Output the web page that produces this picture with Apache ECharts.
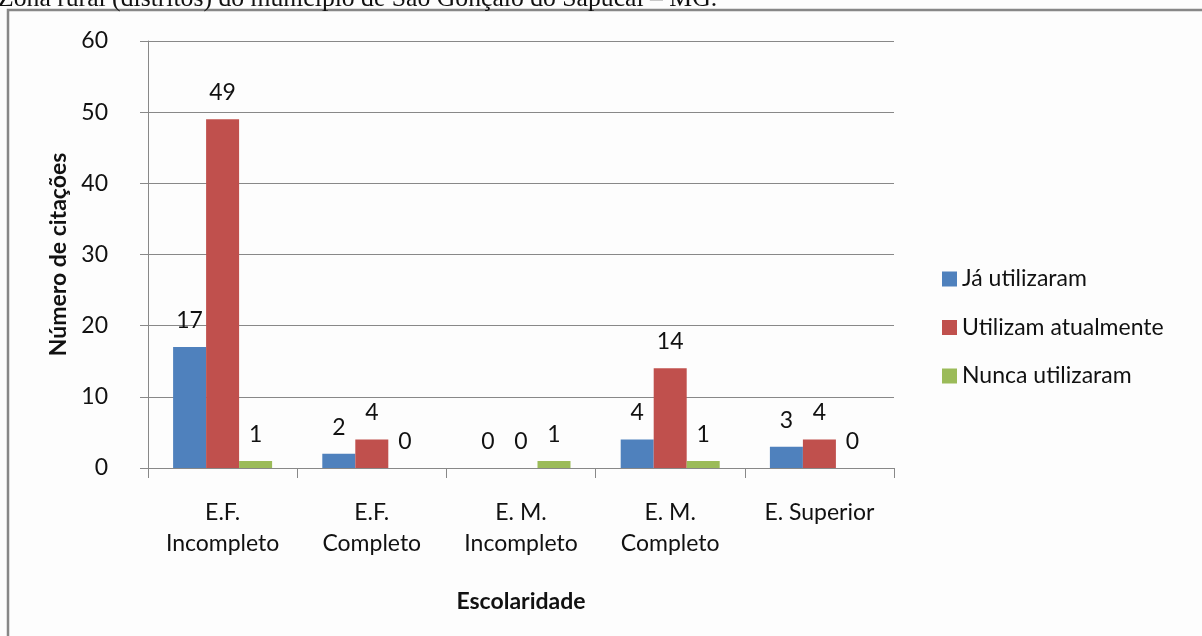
<!DOCTYPE html>
<html>
<head>
<meta charset="utf-8">
<script src="https://cdn.jsdelivr.net/npm/echarts@6/dist/echarts.min.js"></script>
<style>
  html, body { margin: 0; padding: 0; background: #fdfdfd; }
  #chart { width: 1202px; height: 636px; }
</style>
</head>
<body>
<div id="chart"></div>
<script>
// escolaridade x uso
const CATEGORIES = ["E.F.\nIncompleto", "E.F.\nCompleto", "E. M.\nIncompleto", "E. M.\nCompleto", "E. Superior"];
const JA_UTILIZARAM = [17, 2, 0, 4, 3];
const UTILIZAM_ATUALMENTE = [49, 4, 0, 14, 4];
const NUNCA_UTILIZARAM = [1, 0, 1, 1, 0];
const Y_TICKS = { min: 0, max: 60, interval: 10 };

const COL = { ja: "#4F81BD", atual: "#C0504D", nunca: "#9BBB59" };
const FONT = "Lato, 'Noto Sans', sans-serif";
const FS = 23;
const GRAY = "#888888";

const chart = echarts.init(document.getElementById("chart"));

const label = {
  show: true, position: "top", distance: 15,
  fontFamily: FONT, fontSize: FS, color: "#111",
};

function barSeries(name, data, color) {
  return { name, type: "bar", data, barWidth: 33, barGap: 0,
    itemStyle: { color }, label, emphasis: { disabled: true } };
}

chart.setOption({
  animation: false,
  textStyle: { fontFamily: FONT, color: "#111" },
  grid: { left: 148, right: 308, top: 41, bottom: 168 },
  graphic: [
    { type: "rect", shape: { x: 8, y: 10, width: 1300, height: 700 },
      style: { fill: "none", stroke: "#878787", lineWidth: 2.5 }, silent: true },
    { type: "text", left: -2, top: -14,
      style: { text: "Zona rural (distritos) do município de São Gonçalo do Sapucaí – MG.",
        font: "25.7px 'Liberation Serif', serif", fill: "#111" } },
  ],
  legend: {
    data: ["Já utilizaram", "Utilizam atualmente", "Nunca utilizaram"],
    orient: "vertical", left: 937, top: 262, itemGap: 24.5,
    icon: "rect", itemWidth: 15, itemHeight: 15,
    textStyle: { fontFamily: FONT, fontSize: FS, lineHeight: 24, color: "#111" },
    selectedMode: false,
  },
  xAxis: {
    type: "category", data: CATEGORIES,
    axisLine: { lineStyle: { color: GRAY, width: 1 } },
    axisTick: { show: true, length: 10, lineStyle: { color: GRAY } },
    axisLabel: { fontFamily: FONT, fontSize: FS, color: "#111", margin: 29, lineHeight: 31 },
    name: "Escolaridade", nameLocation: "middle", nameGap: 122,
    nameTextStyle: { fontFamily: FONT, fontSize: FS, fontWeight: "bold", color: "#111" },
  },
  yAxis: {
    type: "value", min: Y_TICKS.min, max: Y_TICKS.max, interval: Y_TICKS.interval,
    axisLine: { show: true, lineStyle: { color: GRAY, width: 1 } },
    axisTick: { show: true, length: 8, lineStyle: { color: GRAY } },
    axisLabel: { fontFamily: FONT, fontSize: FS, color: "#111", margin: 40 },
    splitLine: { lineStyle: { color: GRAY, width: 1 } },
    name: "Número de citações", nameLocation: "middle", nameGap: 78,
    nameTextStyle: { fontFamily: FONT, fontSize: FS, fontWeight: "bold", color: "#111" },
  },
  series: [
    barSeries("Já utilizaram", JA_UTILIZARAM, COL.ja),
    barSeries("Utilizam atualmente", UTILIZAM_ATUALMENTE, COL.atual),
    barSeries("Nunca utilizaram", NUNCA_UTILIZARAM, COL.nunca),
  ],
});
</script>
</body>
</html>
